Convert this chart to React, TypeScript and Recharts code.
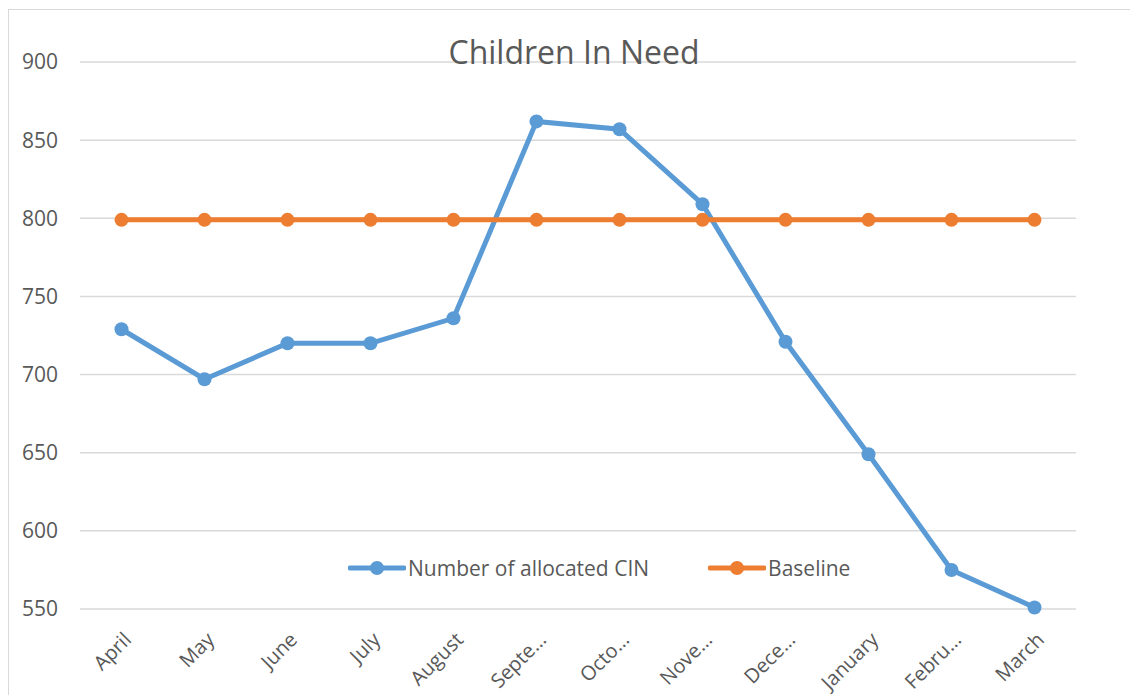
import React from 'react';
import {
  LineChart,
  Line,
  XAxis,
  YAxis,
  CartesianGrid,
  Legend,
} from 'recharts';

// Month labels as they appear on the axis (Excel truncated the long ones)
const months = ['April', 'May', 'June', 'July', 'August', 'Septe…', 'Octo…', 'Nove…', 'Dece…', 'January', 'Febru…', 'March'];
const allocatedCin = [729, 697, 720, 720, 736, 862, 857, 809, 721, 649, 575, 551];
const baseline = [799, 799, 799, 799, 799, 799, 799, 799, 799, 799, 799, 799];
const yTicks = [550, 600, 650, 700, 750, 800, 850, 900];

const data = months.map((m, i) => ({
  month: m,
  cin: allocatedCin[i],
  baseline: baseline[i],
}));

const TEXT = '#595959';
const GRID = '#d9d9d9';
const BLUE = '#5b9bd5';
const ORANGE = '#ed7d31';
const FONT = '"Open Sans", sans-serif';

// Excel-style diagonal month label, end of the text sits just right of the tick
const MonthTick = (props: any) => {
  const { x, y, payload } = props;
  return (
    <g transform={`translate(${x + 11},${y + 32})`}>
      <text
        x={0}
        y={0}
        transform="rotate(-45)"
        textAnchor="end"
        fill={TEXT}
        fontSize={20}
        fontFamily={FONT}
      >
        {payload.value}
      </text>
    </g>
  );
};

const renderLegend = (props: any) => {
  const { payload } = props;
  const items = [...(payload || [])].sort((a: any) => (a.dataKey === 'cin' ? -1 : 1));
  return (
    <div style={{ display: 'flex', gap: 59, fontFamily: FONT, fontSize: 21, color: TEXT }}>
      {items.map((entry: any) => (
        <div key={entry.value} style={{ display: 'flex', alignItems: 'center' }}>
          <svg width={58} height={16} style={{ marginRight: 2 }}>
            <line x1={2} y1={8} x2={56} y2={8} stroke={entry.color} strokeWidth={5} strokeLinecap="round" />
            <circle cx={29} cy={8} r={7} fill={entry.color} />
          </svg>
          <span>{entry.value}</span>
        </div>
      ))}
    </div>
  );
};

export default function App() {
  return (
    <div
      style={{
        position: 'relative',
        width: 1140,
        height: 700,
        marginTop: 1,
        border: `1.5px solid ${GRID}`,
        background: '#fff',
      }}
    >
      <div
        style={{
          position: 'absolute',
          top: 20,
          left: 0,
          width: 1130,
          textAlign: 'center',
          fontFamily: FONT,
          fontSize: 32,
          color: TEXT,
          zIndex: 2,
          pointerEvents: 'none',
        }}
      >
        Children In Need
      </div>
      <LineChart width={1130} height={690} data={data} margin={{ top: 52, right: 63, left: 0, bottom: 0 }}>
        <CartesianGrid vertical={false} stroke={GRID} strokeWidth={1.5} />
        <XAxis
          dataKey="month"
          interval={0}
          axisLine={false}
          tickLine={false}
          tickSize={0}
          tickMargin={0}
          height={91}
          padding={{ left: 41.5, right: 41.5 }}
          tick={<MonthTick />}
        />
        <YAxis
          domain={[550, 900]}
          ticks={yTicks}
          width={71}
          axisLine={false}
          tickLine={false}
          tickSize={0}
          tickMargin={22}
          tick={{ fill: TEXT, fontSize: 21, fontFamily: FONT }}
        />
        <Legend
          layout="horizontal"
          verticalAlign="middle"
          align="center"
          content={renderLegend}
          wrapperStyle={{ top: 544, left: 339, width: 'auto' }}
        />
        <Line
          type="linear"
          dataKey="cin"
          name="Number of allocated CIN"
          stroke={BLUE}
          strokeWidth={5}
          dot={{ r: 7, fill: BLUE, stroke: 'none' }}
          activeDot={false}
          isAnimationActive={false}
        />
        <Line
          type="linear"
          dataKey="baseline"
          name="Baseline"
          stroke={ORANGE}
          strokeWidth={5}
          dot={{ r: 7, fill: ORANGE, stroke: 'none' }}
          activeDot={false}
          isAnimationActive={false}
        />
      </LineChart>
    </div>
  );
}
